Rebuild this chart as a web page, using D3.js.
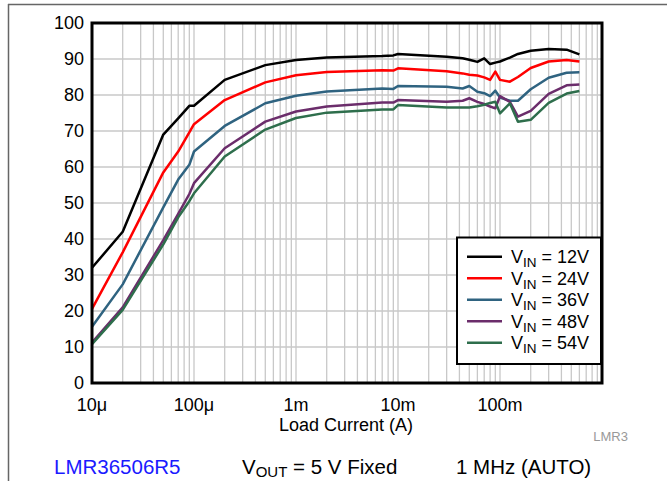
<!DOCTYPE html>
<html lang="en">
<head>
    <meta charset="UTF-8">
    <title>LMR36506R5 efficiency</title>
    <style>
        body { margin: 0; background: #fff; }
        svg { font-family: "Liberation Sans", Arial, sans-serif; }
        .grid line { stroke: #c8c8c8; stroke-width: 1.3; }
        .tick-label { font-size: 18px; fill: #000; }
    </style>
</head>
<body>
    <script src="https://cdn.jsdelivr.net/npm/d3@7"></script>
    <script>

        // load current (A)
        var current = [1e-5, 2e-5, 5e-5, 7e-5, 9e-5, 1e-4, 2e-4, 5e-4, 1e-3, 2e-3, 7e-3, 9e-3, 1e-2,
            3e-2, 4.3e-2, 5e-2, 6e-2, 7e-2, 8e-2, 9e-2, 0.1, 0.125, 0.15, 0.2, 0.3, 0.45, 0.6];

        // efficiency (%)
        var vin12 = [32, 42, 69, 73.5, 77, 77, 84.2, 88.3, 89.7, 90.4, 90.8, 91.0, 91.4,
            90.6, 90.2, 89.8, 89.2, 90.2, 88.6, 89.0, 89.3, 90.4, 91.4, 92.3, 92.8, 92.6, 91.3];
        var vin24 = [20.6, 36.3, 58.5, 64.3, 69.6, 71.9, 78.6, 83.5, 85.5, 86.4, 86.9, 86.8, 87.4,
            86.6, 86.0, 85.6, 85.4, 84.9, 84.2, 86.5, 84.2, 83.7, 85.0, 87.5, 89.3, 89.7, 89.3];
        var vin36 = [15.6, 27.4, 48.8, 56.5, 60.6, 64.3, 71.4, 77.7, 79.8, 81.0, 81.8, 81.7, 82.5,
            82.3, 81.8, 82.5, 80.9, 80.5, 79.7, 81.2, 79.3, 78.4, 78.4, 81.6, 84.8, 86.2, 86.3];
        var vin48 = [11.2, 21.0, 39.7, 47, 52.5, 55.5, 65.2, 72.6, 75.4, 76.8, 77.9, 77.9, 78.6,
            78.1, 78.4, 79.1, 78.1, 77.5, 76.8, 76.3, 79.7, 78.1, 74.0, 75.6, 80.3, 82.7, 82.9];
        var vin54 = [10.8, 20.3, 38.5, 46, 50.5, 52.7, 62.9, 70.4, 73.6, 75.1, 76.0, 76.0, 77.2,
            76.5, 76.5, 76.5, 76.9, 77.3, 77.8, 78.1, 74.9, 77.7, 72.6, 73.1, 77.8, 80.4, 81.1];

        var seriesNames = ["12V", "24V", "36V", "48V", "54V"];
        var seriesColors = ["#000000", "#ff0000", "#2f6380", "#6b2d6b", "#2e6e4c"];
        var seriesValues = [vin12, vin24, vin36, vin48, vin54];

        var xTickValues = [1e-5, 1e-4, 1e-3, 1e-2, 1e-1];
        var xTickLabels = ["10\u03bc", "100\u03bc", "1m", "10m", "100m"];
        var yTickValues = [0, 10, 20, 30, 40, 50, 60, 70, 80, 90, 100];

        var width = 667,
            height = 481;

        var plot = { left: 92, top: 23, right: 602, bottom: 383 };

        var x = d3.scaleLog()
            .domain([1e-5, 1])
            .range([plot.left, plot.right]);

        var y = d3.scaleLinear()
            .domain([0, 100])
            .range([plot.bottom, plot.top]);

        var svg = d3.select("body").append("svg")
            .attr("width", width)
            .attr("height", height);

        // page frame
        svg.append("line")
            .attr("x1", 8).attr("x2", width).attr("y1", 4.5).attr("y2", 4.5)
            .attr("stroke", "#666").attr("stroke-width", 1.5);
        svg.append("line")
            .attr("x1", 8.5).attr("x2", 8.5).attr("y1", 4).attr("y2", height)
            .attr("stroke", "#666").attr("stroke-width", 1.5);

        // grid
        var minor = [];
        for (var e = -5; e < 0; e++) {
            for (var k = 1; k < 10; k++) minor.push(k * Math.pow(10, e));
        }

        var grid = svg.append("g").attr("class", "grid");

        grid.selectAll("line.v")
            .data(minor.slice(1))
            .enter().append("line")
            .attr("class", "v")
            .attr("x1", function(d) { return x(d); })
            .attr("x2", function(d) { return x(d); })
            .attr("y1", plot.top)
            .attr("y2", plot.bottom);

        grid.selectAll("line.h")
            .data(yTickValues.slice(1, -1))
            .enter().append("line")
            .attr("class", "h")
            .attr("x1", plot.left)
            .attr("x2", plot.right)
            .attr("y1", function(d) { return y(d); })
            .attr("y2", function(d) { return y(d); });

        // axes labels
        svg.selectAll("text.ylab")
            .data(yTickValues)
            .enter().append("text")
            .attr("class", "tick-label")
            .attr("x", 84)
            .attr("y", function(d) { return y(d); })
            .attr("dy", "0.35em")
            .attr("text-anchor", "end")
            .text(function(d) { return d; });

        svg.selectAll("text.xlab")
            .data(xTickValues)
            .enter().append("text")
            .attr("class", "tick-label")
            .attr("x", function(d) { return x(d); })
            .attr("y", 411)
            .attr("text-anchor", "middle")
            .text(function(d, i) { return xTickLabels[i]; });

        svg.append("text")
            .attr("x", 346)
            .attr("y", 431)
            .attr("text-anchor", "middle")
            .style("font-size", "18px")
            .text("Load Current (A)");

        // curves
        var line = d3.line()
            .x(function(d, i) { return x(current[i]); })
            .y(function(d) { return y(d); });

        svg.selectAll("path.curve")
            .data(seriesValues)
            .enter().append("path")
            .attr("class", "curve")
            .attr("fill", "none")
            .attr("stroke", function(d, i) { return seriesColors[i]; })
            .attr("stroke-width", 2.5)
            .attr("stroke-linejoin", "round")
            .attr("d", line);

        // plot frame
        svg.append("rect")
            .attr("x", plot.left)
            .attr("y", plot.top)
            .attr("width", plot.right - plot.left)
            .attr("height", plot.bottom - plot.top)
            .attr("fill", "none")
            .attr("stroke", "#000")
            .attr("stroke-width", 3);

        // legend
        var legend = svg.append("g");

        legend.append("rect")
            .attr("x", 457)
            .attr("y", 237.5)
            .attr("width", 144)
            .attr("height", 126.5)
            .attr("fill", "#fff")
            .attr("stroke", "#000")
            .attr("stroke-width", 2);

        var item = legend.selectAll("g.item")
            .data(seriesNames)
            .enter().append("g")
            .attr("class", "item")
            .attr("transform", function(d, i) { return "translate(0," + (256.7 + i * 21.5) + ")"; });

        item.append("line")
            .attr("x1", 467).attr("x2", 502)
            .attr("stroke", function(d, i) { return seriesColors[i]; })
            .attr("stroke-width", 2.5);

        var lt = item.append("text")
            .attr("x", 511)
            .attr("dy", "0.35em")
            .style("font-size", "18px");
        lt.append("tspan").text("V");
        lt.append("tspan").attr("dy", 4).style("font-size", "13.5px").text("IN");
        lt.append("tspan").attr("dy", -4).text(function(d) { return " = " + d; });

        // notes
        svg.append("text")
            .attr("x", 628)
            .attr("y", 441)
            .attr("text-anchor", "end")
            .attr("fill", "#999")
            .style("font-size", "13px")
            .text("LMR3");

        svg.append("text")
            .attr("x", 54)
            .attr("y", 474)
            .attr("fill", "#1a1aff")
            .style("font-size", "20.5px")
            .text("LMR36506R5");

        var vout = svg.append("text")
            .attr("x", 242)
            .attr("y", 474)
            .style("font-size", "20.5px");
        vout.append("tspan").text("V");
        vout.append("tspan").attr("dy", 3).style("font-size", "15px").text("OUT");
        vout.append("tspan").attr("dy", -3).text(" = 5 V Fixed");

        svg.append("text")
            .attr("x", 456)
            .attr("y", 474)
            .style("font-size", "20.5px")
            .text("1 MHz (AUTO)");

    </script>
</body>
</html>
